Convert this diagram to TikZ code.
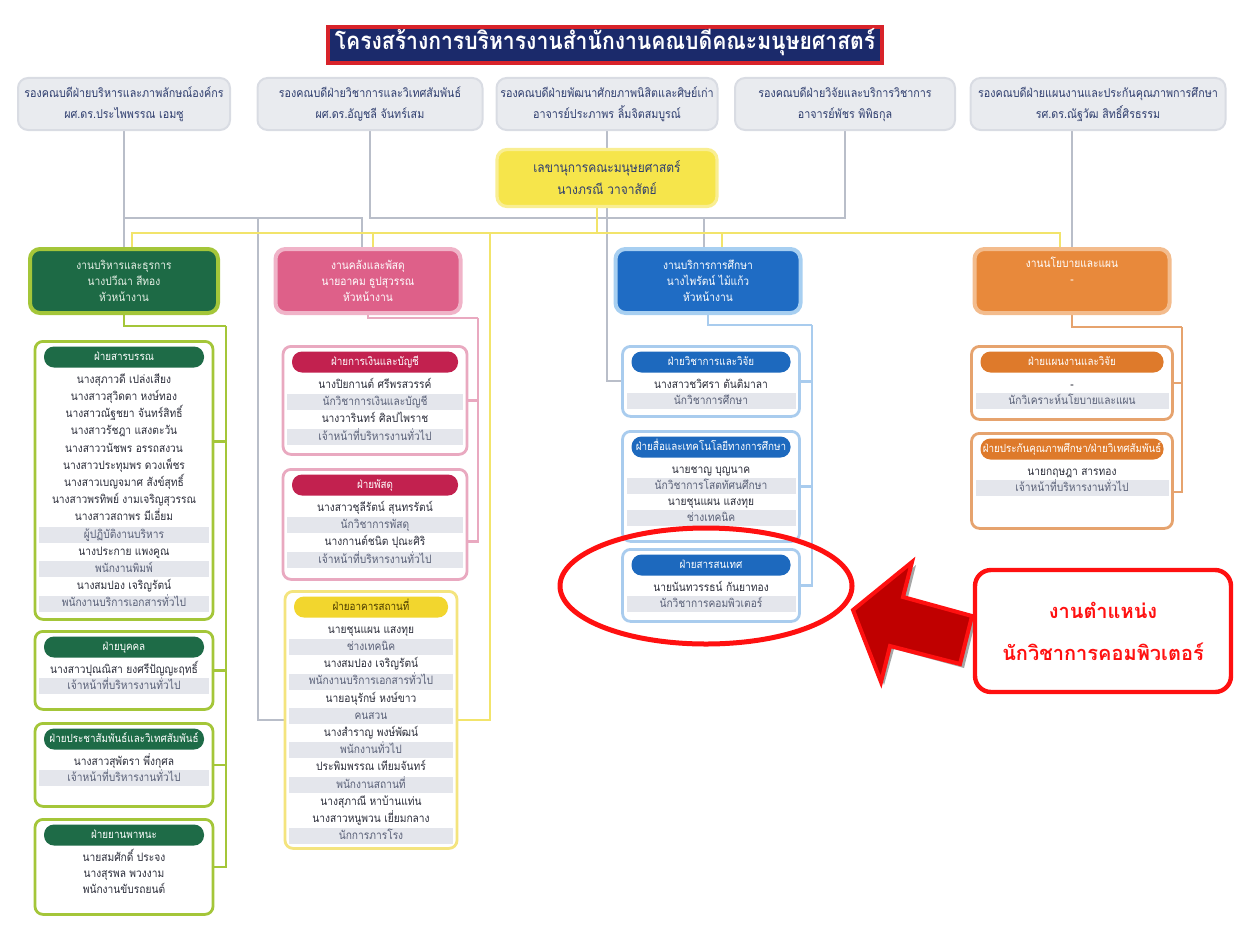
\documentclass[tikz,border=0pt]{standalone}
\usepackage{fontspec}
\setmainfont{Loma}[Script=Thai,FakeStretch=0.88]
\newfontfamily\notefam{Loma}[Script=Thai]
\usetikzlibrary{shapes.geometric,backgrounds,positioning}
\definecolor{Navy}{HTML}{1B2A6B}
\definecolor{TitleRed}{HTML}{D8232A}
\definecolor{Ink}{HTML}{2B2D3A}
\definecolor{InkSoft}{HTML}{5A6178}
\definecolor{VPInk}{HTML}{2E3D6E}
\definecolor{VPFill}{HTML}{E9EBEF}
\definecolor{VPEdge}{HTML}{D9DCE3}
\definecolor{RowGray}{HTML}{E4E6EC}
\definecolor{Trunk}{HTML}{B9BEC9}
\definecolor{YelTrunk}{HTML}{F2E46B}
\definecolor{SecFill}{HTML}{F6E54B}
\definecolor{SecEdge}{HTML}{F9EE92}
\definecolor{Alert}{HTML}{FF1010}
\definecolor{ArrowDark}{HTML}{C00000}
% column themes
\definecolor{grnFill}{HTML}{1D6A45}\definecolor{grnEdge}{HTML}{A4C639}\definecolor{grnText}{HTML}{E6F0E6}
\definecolor{grnLine}{HTML}{A4C639}\definecolor{grnPill}{HTML}{1E6B47}\definecolor{grnPillText}{HTML}{FFFFFF}
\definecolor{pnkFill}{HTML}{DE6089}\definecolor{pnkEdge}{HTML}{F0B3C8}\definecolor{pnkText}{HTML}{FFFFFF}
\definecolor{pnkLine}{HTML}{E9A9C0}\definecolor{pnkPill}{HTML}{C2214F}\definecolor{pnkPillText}{HTML}{FFFFFF}
\definecolor{ylwLine}{HTML}{F4E47E}\definecolor{ylwPill}{HTML}{F2D62E}\definecolor{ylwPillText}{HTML}{4A3B00}
\definecolor{bluFill}{HTML}{1F6CC4}\definecolor{bluEdge}{HTML}{A7CFF1}\definecolor{bluText}{HTML}{FFFFFF}
\definecolor{bluLine}{HTML}{A9CCEE}\definecolor{bluPill}{HTML}{1D69BE}\definecolor{bluPillText}{HTML}{FFFFFF}
\definecolor{orgFill}{HTML}{E8893B}\definecolor{orgEdge}{HTML}{F3BC8D}\definecolor{orgText}{HTML}{FFFFFF}
\definecolor{orgLine}{HTML}{E6A36E}\definecolor{orgPill}{HTML}{DE7A2B}\definecolor{orgPillText}{HTML}{FFFFFF}
\newcommand\ttlfnt{\fontsize{12}{14}\selectfont\bfseries}
\newcommand\vpfnt{\fontsize{6.1}{10.5}\selectfont}
\newcommand\hdfnt{\fontsize{5.8}{8}\selectfont}
\newcommand\plfnt{\fontsize{5.6}{6}\selectfont}
\newcommand\rwfnt{\fontsize{5.8}{6}\selectfont}
\newcommand\ntfnt{\notefam\fontsize{10}{21}\selectfont\bfseries}
% one sub-unit: name, theme, x, top, width, height, header, rows, row step
\newcommand\unitblock[9]{%
  \node[frame=#2,minimum width=#5*0.5pt,minimum height=#6*0.5pt,anchor=north] (#1) at (#3,#4) {};
  \node[pill=#2,minimum width=(#5-18)*0.5pt] (#1-h) at (#3,#4+17) {#7};
  \foreach \rw/\sh [count=\nr] in {#8}
    \node[row,row\sh,minimum width=(#5-8)*0.5pt] (#1-\nr) at (#3,{#4+40+(\nr-1)*#9}) {\rw};
}

\begin{document}
\begin{tikzpicture}[x=0.5pt,y=-0.5pt,
titlebox/.style={fill=Navy,draw=TitleRed,line width=2pt,minimum width=275pt,minimum height=18pt,text=white,font=\ttlfnt,text height=7pt,text depth=2.5pt},
vpbox/.style={draw=VPEdge,fill=VPFill,line width=1pt,rounded corners=5pt,minimum width=#1*0.5pt,minimum height=26pt,align=center,text=VPInk,font=\vpfnt,inner sep=1pt},
secbox/.style={fill=SecFill,draw=SecEdge,line width=1.6pt,rounded corners=5pt,minimum width=110pt,minimum height=28.5pt,align=center,text=VPInk,font=\fontsize{6.8}{11}\selectfont},
head/.style={fill=#1Fill,draw=#1Edge,line width=2pt,rounded corners=5pt,text=#1Text,align=center,font=\hdfnt,inner sep=1pt,minimum height=32pt},
frame/.style={draw=#1Line,fill=white,rounded corners=4pt,line width=1.4pt},
pill/.style={fill=#1Pill,text=#1PillText,rounded corners=5pt,minimum height=10.5pt,inner sep=0pt,font=\plfnt,text height=4.6pt,text depth=1.4pt},
row/.style={text=Ink,inner sep=0pt,minimum height=8pt,font=\rwfnt,text height=4.8pt,text depth=1.6pt},
row0/.style={},
row1/.style={fill=RowGray,text=InkSoft},
conn/.style={draw=#1Line,line width=1.2pt},
grayln/.style={draw=Trunk,line width=1pt},
yelln/.style={draw=YelTrunk,line width=1.3pt},
note/.style={draw=Alert,line width=2.2pt,rounded corners=8pt,fill=white,minimum width=128pt,minimum height=61pt,align=center,text=Alert,font=\ntfnt}]
\useasboundingbox (0,0) rectangle (1234,931);

\node[titlebox] (ttl) at (605,45) {โครงสร้างการบริหารงานสำนักงานคณบดีคณะมนุษยศาสตร์};

% deputy deans
\node[vpbox=212] (vp1) at (124,104) {รองคณบดีฝ่ายบริหารและภาพลักษณ์องค์กร\\ผศ.ดร.ประไพพรรณ เอมซู};
\node[vpbox=225] (vp2) at (370,104) {รองคณบดีฝ่ายวิชาการและวิเทศสัมพันธ์\\ผศ.ดร.อัญชลี จันทร์เสม};
\node[vpbox=221] (vp3) at (607,104) {รองคณบดีฝ่ายพัฒนาศักยภาพนิสิตและศิษย์เก่า\\อาจารย์ประภาพร ลิ้มจิตสมบูรณ์};
\node[vpbox=220] (vp4) at (845,104) {รองคณบดีฝ่ายวิจัยและบริการวิชาการ\\อาจารย์พัชร พิพิธกุล};
\node[vpbox=255] (vp5) at (1098,104) {รองคณบดีฝ่ายแผนงานและประกันคุณภาพการศึกษา\\รศ.ดร.ณัฐวัฒ สิทธิ์ศิรธรรม};

\node[secbox] (sec) at (607,178) {เลขานุการคณะมนุษยศาสตร์\\นางภรณี วาจาสัตย์};

% section heads
\node[head=grn,minimum width=94pt] (gh) at (124,281) {งานบริหารและธุรการ\\นางปวีณา สีทอง\\หัวหน้างาน};
\node[head=pnk,minimum width=92.5pt] (ph) at (368,281) {งานคลังและพัสดุ\\นายอาคม ธูปสุวรรณ\\หัวหน้างาน};
\node[head=blu,minimum width=92.5pt] (bh) at (708,281) {งานบริการการศึกษา\\นางไพรัตน์ ไม้แก้ว\\หัวหน้างาน};
\node[head=org,minimum width=97.5pt] (oh) at (1072,281) {งานนโยบายและแผน\\-\\\strut};

% green column
\unitblock{g1}{grn}{124}{340}{178}{278}{ฝ่ายสารบรรณ}{{นางสุภาวดี เปล่งเสียง}/0,{นางสาวสุวิดตา หงษ์ทอง}/0,{นางสาวณัฐชยา จันทร์สิทธิ์}/0,{นางสาวรัชฎา แสงตะวัน}/0,{นางสาววนัชพร อรรถสงวน}/0,{นางสาวประทุมพร ดวงเพ็ชร}/0,{นางสาวเบญจมาศ สังข์สุทธิ์}/0,{นางสาวพรทิพย์ งามเจริญสุวรรณ}/0,{นางสาวสถาพร มีเอี่ยม}/0,{ผู้ปฏิบัติงานบริหาร}/1,{นางประกาย แพงคูณ}/0,{พนักงานพิมพ์}/1,{นางสมปอง เจริญรัตน์}/0,{พนักงานบริการเอกสารทั่วไป}/1}{17.2}
\unitblock{g2}{grn}{124}{630}{178}{78}{ฝ่ายบุคคล}{{นางสาวปุณณิสา ยงศรีปัญญะฤทธิ์}/0,{เจ้าหน้าที่บริหารงานทั่วไป}/1}{16}
\unitblock{g3}{grn}{124}{722}{178}{83}{ฝ่ายประชาสัมพันธ์และวิเทศสัมพันธ์}{{นางสาวสุพัตรา พึ่งกุศล}/0,{เจ้าหน้าที่บริหารงานทั่วไป}/1}{16}
\unitblock{g4}{grn}{124}{818}{178}{95}{ฝ่ายยานพาหนะ}{{นายสมศักดิ์ ประจง}/0,{นางสุรพล พวงงาม}/0,{พนักงานขับรถยนต์}/0}{16}

% pink and yellow column
\unitblock{p1}{pnk}{375}{345}{184}{108}{ฝ่ายการเงินและบัญชี}{{นางปิยกานต์ ศรีพรสวรรค์}/0,{นักวิชาการเงินและบัญชี}/1,{นางวารินทร์ ศิลปไพราช}/0,{เจ้าหน้าที่บริหารงานทั่วไป}/1}{17.3}
\unitblock{p2}{pnk}{375}{468}{184}{110}{ฝ่ายพัสดุ}{{นางสาวชุลีรัตน์ สุนทรรัตน์}/0,{นักวิชาการพัสดุ}/1,{นางกานต์ชนิต ปุณะศิริ}/0,{เจ้าหน้าที่บริหารงานทั่วไป}/1}{17.3}
\unitblock{ya}{ylw}{371}{590}{172}{257}{ฝ่ายอาคารสถานที่}{{นายชุนแผน แสงทุย}/0,{ช่างเทคนิค}/1,{นางสมปอง เจริญรัตน์}/0,{พนักงานบริการเอกสารทั่วไป}/1,{นายอนุรักษ์ หงษ์ขาว}/0,{คนสวน}/1,{นางสำราญ พงษ์พัฒน์}/0,{พนักงานทั่วไป}/1,{ประพิมพรรณ เทียมจันทร์}/0,{พนักงานสถานที่}/1,{นางสุภาณี หาบ้านแท่น}/0,{นางสาวหนูพวน เยี่ยมกลาง}/0,{นักการภารโรง}/1}{17.2}

% blue column
\unitblock{b1}{blu}{711}{345}{177}{70}{ฝ่ายวิชาการและวิจัย}{{นางสาวชวิศรา ตันติมาลา}/0,{นักวิชาการศึกษา}/1}{16}
\unitblock{b2}{blu}{711}{430}{177}{110}{ฝ่ายสื่อและเทคโนโลยีทางการศึกษา}{{นายชาญ บุญนาค}/0,{นักวิชาการโสตทัศนศึกษา}/1,{นายชุนแผน แสงทุย}/0,{ช่างเทคนิค}/1}{16}
\unitblock{b3}{blu}{711}{548}{177}{72}{ฝ่ายสารสนเทศ}{{นายนันทวรรธน์ กันยาทอง}/0,{นักวิชาการคอมพิวเตอร์}/1}{16}

% orange column
\unitblock{o1}{org}{1072}{345}{201}{73}{ฝ่ายแผนงานและวิจัย}{{-}/0,{นักวิเคราะห์นโยบายและแผน}/1}{16}
\unitblock{o2}{org}{1072}{432}{201}{95}{ฝ่ายประกันคุณภาพศึกษา/ฝ่ายวิเทศสัมพันธ์}{{นายกฤษฎา สารทอง}/0,{เจ้าหน้าที่บริหารงานทั่วไป}/1}{16}

\begin{pgfonlayer}{background}
\coordinate (gy) at (0,218);
\coordinate (yy) at (0,233);
\coordinate (gL) at (258,218);
\coordinate (yR) at (490,233);
\coordinate (gPk) at ([xshift=-3pt]ph.north);
\coordinate (yPk) at ([xshift=2.5pt]ph.north);
\coordinate (yGr) at ([xshift=4pt]gh.north);
\coordinate (gBl) at ([xshift=-2pt]bh.north);
\coordinate (yBl) at ([xshift=7pt]bh.north);
\coordinate (yOr) at ([xshift=-6pt]oh.north);
\coordinate (ySec) at ([xshift=-5pt]sec.south);
% deputy dean lines
\draw[grayln] (vp1.south) -- (gh.north);
\draw[grayln] (vp1.south |- gy) -| (gPk);
\draw[grayln] (gL) |- (ya.west);
\draw[grayln] (vp2.south) |- (vp4.south |- gy) -- (vp4.south);
\draw[grayln] (gBl |- gy) -- (gBl);
\draw[grayln] (vp3.south) |- (b1.west);
\draw[grayln] (oh.north |- vp5.south) -- (oh.north);
% secretary lines
\draw[yelln] (ySec) -- (ySec |- yy);
\draw[yelln] (yGr) |- (yOr |- yy) -- (yOr);
\draw[yelln] (yPk |- yy) -- (yPk);
\draw[yelln] (yBl |- yy) -- (yBl);
\draw[yelln] (yR) |- (ya.east);
% column spines
\coordinate (gsp) at (226,326);
\draw[conn=grn] (gh.south) |- (gsp);
\draw[conn=grn] (gsp) |- ([yshift=19.5pt]g1.east);
\draw[conn=grn] (gsp) |- (g2.east);
\draw[conn=grn] (gsp) |- (g3.east);
\draw[conn=grn] (gsp) |- (g4.east);
\coordinate (psp) at (478,318);
\draw[conn=pnk] (ph.south) |- (psp);
\draw[conn=pnk] (psp) |- (p1.east);
\draw[conn=pnk] (psp) |- ([yshift=-8.5pt]p2.east);
\coordinate (bsp) at (812,325);
\draw[conn=blu] (bh.south) |- (bsp);
\draw[conn=blu] (bsp) |- (b1.east);
\draw[conn=blu] (bsp) |- (b2.east);
\draw[conn=blu] (bsp) |- (b3.east);
\coordinate (osp) at (1182,327);
\draw[conn=org] (oh.south) |- (osp);
\draw[conn=org] (osp) |- (o1.east);
\draw[conn=org] (osp) |- ([yshift=-5.5pt]o2.east);
\end{pgfonlayer}

% highlight
\node[draw=Alert,line width=2.5pt,ellipse,minimum width=146pt,minimum height=58pt] (hl) at (706,586) {};
\fill[black!35] (857,614) -- (916,565) -- (907,601) -- (976,619) -- (964,668) -- (894,649) -- (884,685) -- cycle;
\filldraw[fill=ArrowDark,draw=Alert,line width=2pt,line join=miter] (853,610) -- (912,562) -- (903,597) -- (972,616) -- (960,664) -- (890,646) -- (881,682) -- cycle;
\node[note] (nt) at (1103,631) {งานตำแหน่ง\\นักวิชาการคอมพิวเตอร์};
\end{tikzpicture}
\end{document}
